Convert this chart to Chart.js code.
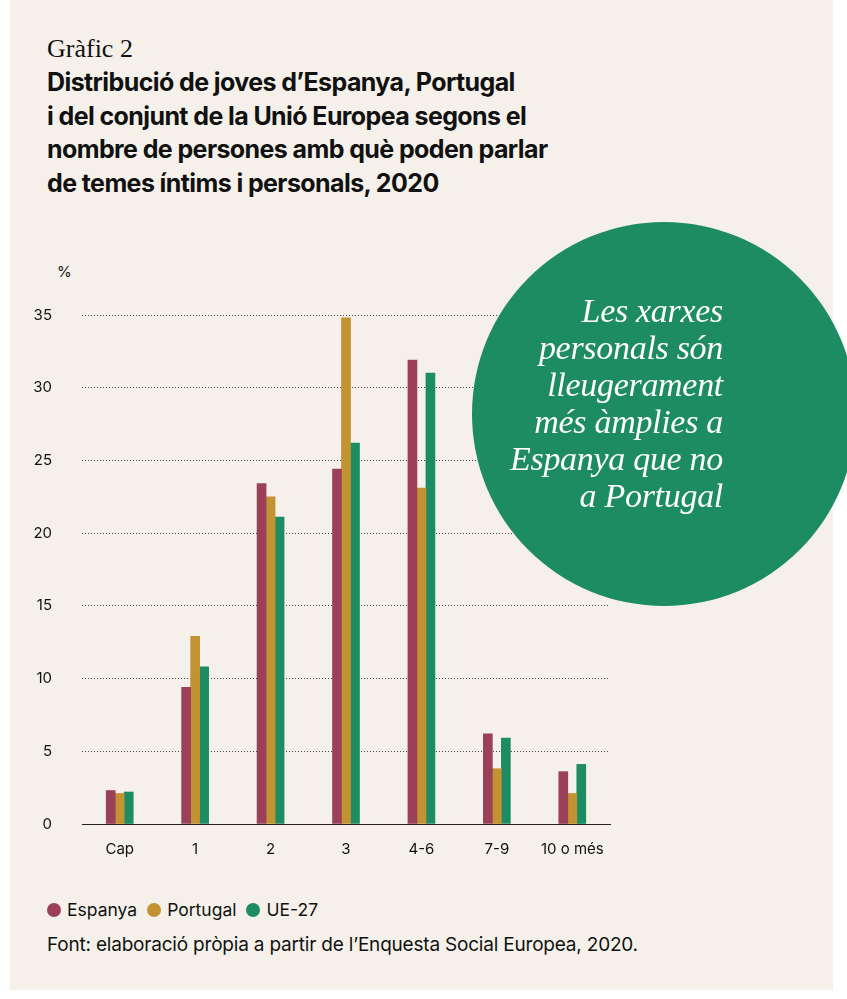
<!DOCTYPE html>
<html><head><meta charset="utf-8">
<script src="https://cdn.jsdelivr.net/npm/chart.js@4"></script>
<style>
body{margin:0;background:#fff;width:847px;height:999px;overflow:hidden;position:relative;font-family:"Inter","Roboto",sans-serif;}
#panel{position:absolute;left:10px;top:0;width:823px;height:990px;background:#f5f1ea;}
#g{position:absolute;left:47px;top:34px;font:26px "Liberation Serif",serif;color:#111;}
#t{position:absolute;left:47px;top:66px;font:bold 25px/33.5px "Inter",sans-serif;color:#111;letter-spacing:-0.6px;}
#pct{position:absolute;left:57px;top:262px;font:15px "Inter",sans-serif;color:#111;}
#circ{position:absolute;left:472px;top:222px;width:384px;height:384px;border-radius:50%;background:#1e8c63;}
#ct{position:absolute;right:124px;top:292px;text-align:right;font:italic 34px/37px "Liberation Serif",serif;color:#fff;letter-spacing:-0.3px;}
#c{position:absolute;left:22px;top:276px;}
#leg{position:absolute;left:47px;top:899px;font:17.5px "Inter",sans-serif;color:#111;}
#leg span{display:inline-block;margin-right:10px;}
#leg i{display:inline-block;width:14px;height:14px;border-radius:50%;margin-right:6px;vertical-align:-1px;}
#src{position:absolute;left:47px;top:933px;font:19px "Inter",sans-serif;color:#111;letter-spacing:-0.2px;}
</style></head><body>
<div id="panel"></div>
<div id="g">Gràfic 2</div>
<div id="t">Distribució de joves d’Espanya, Portugal<br>i del conjunt de la Unió Europea segons el<br>nombre de persones amb què poden parlar<br>de temes íntims i personals, 2020</div>
<div id="pct">%</div>
<canvas id="c"></canvas>
<div id="circ"></div>
<div id="ct">Les xarxes<br>personals són<br>lleugerament<br>més àmplies a<br>Espanya que no<br>a Portugal</div>
<div id="leg"><span><i style="background:#9a4058"></i>Espanya</span><span><i style="background:#c29233"></i>Portugal</span><span><i style="background:#1e8c63"></i>UE-27</span></div>
<div id="src">Font: elaboració pròpia a partir de l’Enquesta Social Europea, 2020.</div>
<script>
const categories = ["Cap", "1", "2", "3", "4-6", "7-9", "10 o més"];
const espanya = [2.3, 9.4, 23.4, 24.4, 31.9, 6.2, 3.6];
const portugal = [2.1, 12.9, 22.5, 34.8, 23.1, 3.8, 2.1];
const ue27 = [2.2, 10.8, 21.1, 26.2, 31.0, 5.9, 4.1];
const yTicks = [0, 5, 10, 15, 20, 25, 30, 35];

const cv = document.getElementById("c");
cv.width = 600; cv.height = 590;
cv.style.width = "600px"; cv.style.height = "590px";

const ds = (label, data, color) => ({ label, data, backgroundColor: color, barThickness: 9 });

new Chart(cv, {
  type: "bar",
  data: {
    labels: categories,
    datasets: [ds("Espanya", espanya, "#9a4058"), ds("Portugal", portugal, "#c29233"), ds("UE-27", ue27, "#1e8c63")],
  },
  options: {
    responsive: false,
    animation: false,
    devicePixelRatio: 1,
    layout: { padding: { top: 18, right: 12 } },
    plugins: { legend: { display: false }, tooltip: { enabled: false } },
    datasets: { bar: { categoryPercentage: 0.62, barPercentage: 1 } },
    scales: {
      x: {
        grid: { display: false },
        border: { color: "#222", width: 1 },
        ticks: { color: "#111", font: { family: "Inter", size: 15 }, padding: 8 },
      },
      y: {
        min: 0, max: 35,
        afterBuildTicks(axis) { axis.ticks = yTicks.map((v) => ({ value: v })); },
        afterFit(axis) { axis.width = 60; },
        border: { display: false, dash: [1, 2] },
        grid: { color: "#444", lineWidth: 1, drawTicks: false, tickLength: 0 },
        ticks: { color: "#111", font: { family: "Inter", size: 15 }, padding: 30 },
      },
    },
  },
});
</script>
</body></html>
